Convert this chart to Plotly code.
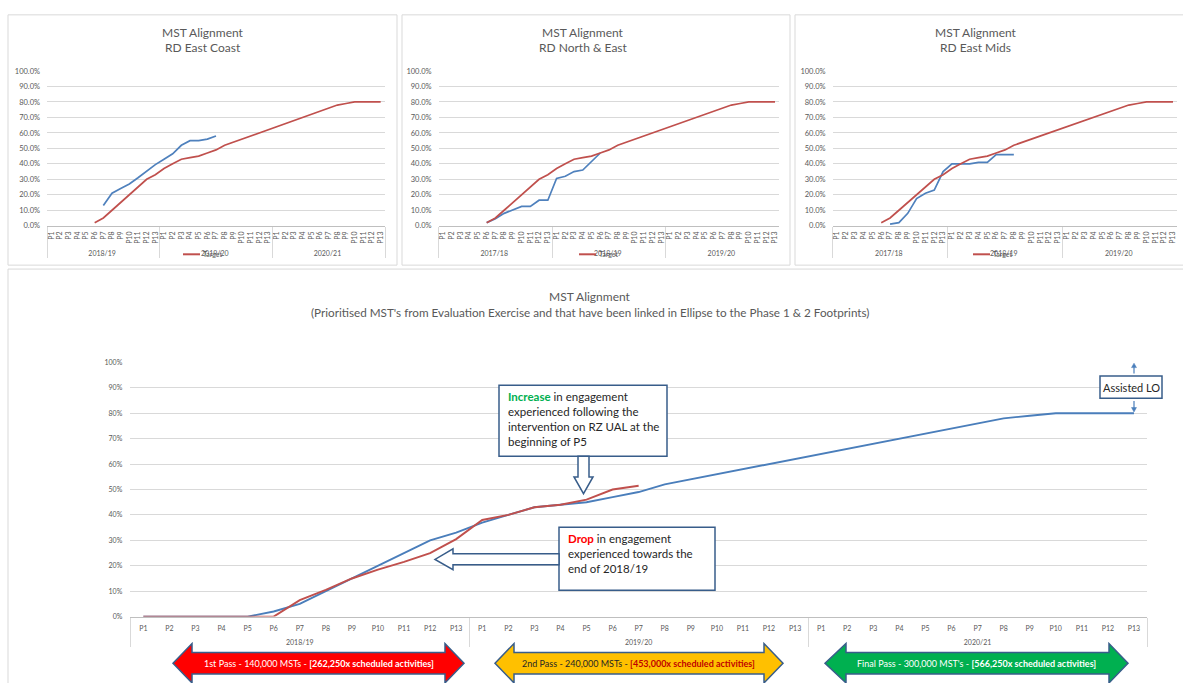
import plotly.graph_objects as go

W, H = 1183, 683

# ---------------- data ----------------
periods = [f"P{i}" for i in range(1, 14)]

ec_years = ["2018/19", "2019/20", "2020/21"]
ne_years = ["2017/18", "2018/19", "2019/20"]
em_years = ["2017/18", "2018/19", "2019/20"]
main_years = ["2018/19", "2019/20", "2020/21"]

# cumulative target (%), 39 periods, shared by the route panels
target_top = [None] * 5 + [2, 5, 10, 15, 20, 25, 30, 33,
                           37, 40, 43, 44, 45, 47, 49, 52, 54, 56, 58, 60, 62,
                           64, 66, 68, 70, 72, 74, 76, 78, 79, 80, 80, 80, 80]

# actual alignment (%) per route
ec_actual = [None] * 6 + [13, 21, 24, 27, 31, 35.5, 39.5,
                          43, 46.5, 52, 55, 55, 56, 58]
ne_actual = [None] * 5 + [2, 4.5, 8, 10.5, 12.5, 12.5, 16.5, 16.5,
                          30.5, 32, 35, 36, 41.5, 47]
em_actual = [None] * 6 + [1, 2, 8, 17.5, 21, 23, 35,
                          40, 40, 40, 41, 41, 46, 46, 46]

# overall programme (%)
main_target = [0, 0, 0, 0, 0, 2, 5, 10, 15, 20, 25, 30, 33,
               37, 40, 43, 44, 45, 47, 49, 52, 54, 56, 58, 60, 62,
               64, 66, 68, 70, 72, 74, 76, 78, 79, 80, 80, 80, 80]
main_actual = [0, 0, 0, 0, 0, 0, 6.5, 10.5, 15, 18.5, 21.5, 25, 30.5,
               38, 40, 43, 44, 46, 50, 51.5]

BLUE_TOP = "#4F81BD"
RED = "#C0504D"
BLUE = "#4A7EBB"
OUTLINE = "#385D8A"
GRID = "#D9D9D9"
TXT = "#595959"
FONT = "Lato, Carlito, Calibri, sans-serif"


def X(px):
    return px / W


def Y(py):
    return 1 - py / H


def multicat(years, year_gap=""):
    # outer level: financial year, inner level: period
    return [[year_gap + y for y in years for _ in periods],
            [p for _ in years for p in periods]]


def pad(vals):
    return list(vals) + [None] * (39 - len(vals))


fig = go.Figure()

# ---------------- route panels ----------------
panels = [
    ("x", "y", ec_years, ec_actual),
    ("x2", "y2", ne_years, ne_actual),
    ("x3", "y3", em_years, em_actual),
]
for xa, ya, yrs, act in panels:
    fig.add_trace(go.Scatter(x=multicat(yrs), y=pad(act), mode="lines",
                             line=dict(color=BLUE_TOP, width=1.7),
                             xaxis=xa, yaxis=ya, showlegend=False, hoverinfo="skip"))
    fig.add_trace(go.Scatter(x=multicat(yrs), y=pad(target_top), mode="lines",
                             line=dict(color=RED, width=1.7),
                             xaxis=xa, yaxis=ya, showlegend=False, hoverinfo="skip"))

# ---------------- overall panel ----------------
fig.add_trace(go.Scatter(x=multicat(main_years, "<br>"), y=pad(main_target), mode="lines",
                         line=dict(color=BLUE, width=1.9),
                         xaxis="x4", yaxis="y4", showlegend=False, hoverinfo="skip"))
fig.add_trace(go.Scatter(x=multicat(main_years, "<br>"), y=pad(main_actual), mode="lines",
                         line=dict(color=RED, width=1.9),
                         xaxis="x4", yaxis="y4", showlegend=False, hoverinfo="skip"))


def xaxis_cfg(left, right, anchor, size, angle, standoff):
    return dict(type="multicategory", domain=[X(left), X(right)], anchor=anchor,
                range=[-0.5, 38.5], showgrid=False, showline=True,
                linecolor="#BFBFBF", linewidth=1,
                tickfont=dict(size=size, color=TXT, family=FONT), tickangle=angle,
                dividercolor=GRID, dividerwidth=1, ticks="",
                ticklabelstandoff=standoff, fixedrange=True)


def yaxis_cfg(top, bottom, anchor, size, fmt, standoff):
    return dict(domain=[Y(bottom), Y(top)], anchor=anchor, range=[0, 100], dtick=10,
                tickformat=fmt, ticksuffix="%", showgrid=True, gridcolor=GRID,
                gridwidth=1, zeroline=False, showline=False, ticks="",
                tickfont=dict(size=size, color=TXT, family=FONT),
                ticklabelstandoff=standoff, fixedrange=True)


fig.update_layout(
    width=W, height=H, autosize=False,
    margin=dict(l=0, r=0, t=0, b=0),
    paper_bgcolor="white", plot_bgcolor="white",
    font=dict(family=FONT, color=TXT),
    showlegend=False,
    xaxis=xaxis_cfg(47, 385, "y", 7, -90, 2),
    yaxis=yaxis_cfg(67, 224, "x", 7.5, ".1f", 6),
    xaxis2=xaxis_cfg(438.6, 779.4, "y2", 7, -90, 2),
    yaxis2=yaxis_cfg(67, 224, "x2", 7.5, ".1f", 6),
    xaxis3=xaxis_cfg(832.6, 1177.4, "y3", 7, -90, 2),
    yaxis3=yaxis_cfg(67, 224, "x3", 7.5, ".1f", 6),
    xaxis4=xaxis_cfg(130.3, 1147, "y4", 7, 0, 5),
    yaxis4=yaxis_cfg(362.7, 620.7, "x4", 7, "d", 7),
)

shapes = []
annotations = []


def rect(x0, y0, x1, y1, color, width=1, fill="rgba(0,0,0,0)"):
    shapes.append(dict(type="rect", xref="paper", yref="paper",
                       x0=X(x0), x1=X(x1), y0=Y(y1), y1=Y(y0),
                       line=dict(color=color, width=width), fillcolor=fill, layer="above"))


def poly(points, color, fill, width=1.5):
    d = "M " + " L ".join(f"{X(px):.5f},{Y(py):.5f}" for px, py in points) + " Z"
    shapes.append(dict(type="path", xref="paper", yref="paper", path=d,
                       line=dict(color=color, width=width), fillcolor=fill, layer="above"))


def text(px, py, s, size, color=TXT, xanchor="center", yanchor="middle", align="center"):
    annotations.append(dict(x=X(px), y=Y(py), xref="paper", yref="paper", text=s,
                            showarrow=False, xanchor=xanchor, yanchor=yanchor, align=align,
                            font=dict(size=size, color=color, family=FONT)))


# chart frames
rect(8, 10, 397, 264, GRID)
rect(402, 10, 790, 264, GRID)
rect(795, 10, 1190, 264, GRID)
rect(8, 268, 1190, 690, GRID)

# route panel titles and legends (legend sits on the middle year label)
route_names = [("RD East Coast", 203, 183), ("RD North & East", 583, 579), ("RD East Mids", 976, 973)]
for name, cx, lx in route_names:
    text(cx, 28, "MST Alignment", 12)
    text(cx, 43.5, name, 12)
    shapes.append(dict(type="line", xref="paper", yref="paper",
                       x0=X(lx), x1=X(lx + 17), y0=Y(253), y1=Y(253),
                       line=dict(color=RED, width=2), layer="above"))
    text(lx + 18, 253, "Target", 7, xanchor="left")

# overall titles
text(590, 296, "MST Alignment", 12)
text(590, 311.5, "(Prioritised MST's from Evaluation Exercise and that have been linked in "
     "Ellipse to the Phase 1 &amp; 2 Footprints)", 11.7)

# increase call-out
rect(499, 386, 667, 458, OUTLINE, 1.5, "white")
poly([(578, 458), (578, 479), (574, 479), (583.5, 496), (593, 479), (589, 479), (589, 458)],
     OUTLINE, "white")
text(506, 389, "<span style='color:#00B050'><b>Increase</b></span> in engagement<br>"
     "experienced following the<br>intervention on RZ UAL at the<br>beginning of P5",
     11.5, "#262626", xanchor="left", yanchor="top", align="left")

# drop call-out
rect(559, 530, 715, 594, OUTLINE, 1.5, "white")
poly([(559, 557), (453, 557), (453, 552), (435, 562.7), (453, 573), (453, 568), (559, 568)],
     OUTLINE, "white")
text(566, 533, "<span style='color:#FF0000'><b>Drop</b></span> in engagement<br>"
     "experienced towards the<br>end of 2018/19",
     11.5, "#262626", xanchor="left", yanchor="top", align="left")

# assisted LO marker
rect(1100, 376.5, 1162, 399, OUTLINE, 1.5, "white")
text(1131, 388, "Assisted LO", 11, "#262626")
shapes.append(dict(type="line", xref="paper", yref="paper", x0=X(1134), x1=X(1134),
                   y0=Y(374), y1=Y(367), line=dict(color=BLUE, width=1.2), layer="above"))
poly([(1131.5, 368), (1136.5, 368), (1134, 363.5)], BLUE, BLUE, 0.5)
shapes.append(dict(type="line", xref="paper", yref="paper", x0=X(1134), x1=X(1134),
                   y0=Y(402), y1=Y(409), line=dict(color=BLUE, width=1.2), layer="above"))
poly([(1131.5, 408.5), (1136.5, 408.5), (1134, 413)], BLUE, BLUE, 0.5)

# pass arrows
passes = [
    (173, 192, 445, 464, "#FF0000", "white",
     "1st Pass - 140,000 MSTs - <b>[262,250x scheduled activities]</b>"),
    (495, 514, 764, 783, "#FFC000", "#262626",
     "2nd Pass - 240,000 MSTs - <b><span style='color:#C00000'>[453,000x scheduled activities]</span></b>"),
    (825, 846, 1109, 1128, "#00B050", "white",
     "Final Pass - 300,000 MST's - <b>[566,250x scheduled activities]</b>"),
]
for lt, lb, rb, rt, fill, tc, label in passes:
    cy = 668
    poly([(lt, cy), (lb, cy - 20), (lb, cy - 11), (rb, cy - 11), (rb, cy - 20), (rt, cy),
          (rb, cy + 20), (rb, cy + 11), (lb, cy + 11), (lb, cy + 20)], OUTLINE, fill, 1.5)
    text((lt + rt) / 2, cy, label, 9, tc)

fig.update_layout(shapes=shapes, annotations=annotations)
fig.write_html("out.html")
